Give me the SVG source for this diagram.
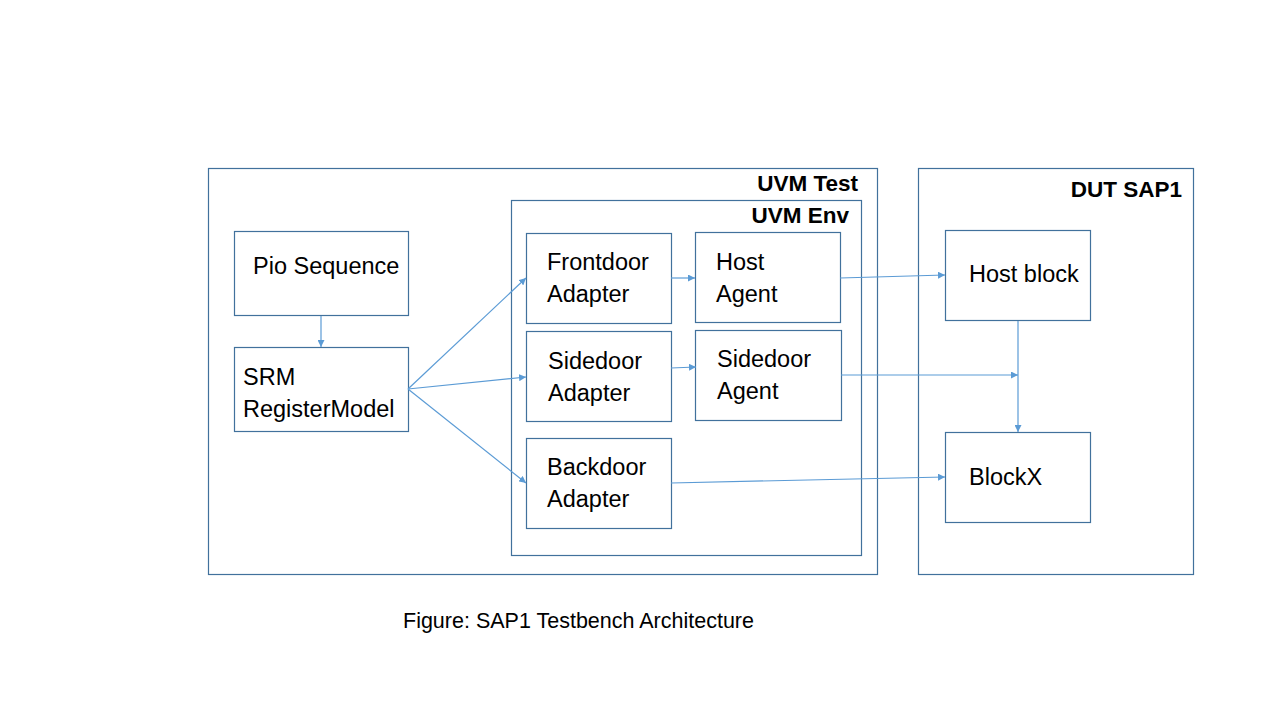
<svg xmlns="http://www.w3.org/2000/svg" width="1280" height="720" viewBox="0 0 1280 720">
<defs>
<marker id="ah" viewBox="0 0 10 10" refX="10" refY="5" markerWidth="7" markerHeight="7" markerUnits="userSpaceOnUse" orient="auto">
<path d="M0,0 L10,5 L0,10 z" fill="#5B9BD5"/>
</marker>
<style>
.box{fill:#fff;stroke:#41719C;stroke-width:1.2}
.cont{fill:none;stroke:#41719C;stroke-width:1.2}
.t{font-family:"Liberation Sans",Arial,sans-serif;font-size:23.5px;fill:#000}
.b{font-family:"Liberation Sans",Arial,sans-serif;font-size:22.5px;font-weight:bold;fill:#000;text-anchor:end}
.c{fill:none;stroke:#5B9BD5;stroke-width:1.2;marker-end:url(#ah)}
</style>
</defs>
<rect width="1280" height="720" fill="#fff"/>
<g id="uvm-test">
<rect class="cont" x="208.5" y="168.5" width="669" height="406"/>
<text class="b" x="858" y="191">UVM Test</text>
</g>
<g id="uvm-env">
<rect class="cont" x="511.5" y="200.5" width="350" height="355"/>
<text class="b" x="849" y="223">UVM Env</text>
</g>
<g id="dut-sap1">
<rect class="cont" x="918.5" y="168.5" width="275" height="406"/>
<text class="b" x="1182" y="197">DUT SAP1</text>
</g>
<g id="pio-sequence">
<rect class="box" x="234.5" y="231.5" width="174" height="84"/>
<text class="t" x="253" y="274">Pio Sequence</text>
</g>
<g id="srm">
<rect class="box" x="234.5" y="347.5" width="174" height="84"/>
<text class="t" x="243" y="385">SRM</text>
<text class="t" x="243" y="417">RegisterModel</text>
</g>
<g id="frontdoor-adapter">
<rect class="box" x="526.5" y="233.5" width="145" height="90"/>
<text class="t" x="547" y="270">Frontdoor</text>
<text class="t" x="547" y="302">Adapter</text>
</g>
<g id="host-agent">
<rect class="box" x="695.5" y="232.5" width="145" height="90"/>
<text class="t" x="716" y="270">Host</text>
<text class="t" x="716" y="302">Agent</text>
</g>
<g id="sidedoor-adapter">
<rect class="box" x="526.5" y="331.5" width="145" height="90"/>
<text class="t" x="548" y="369">Sidedoor</text>
<text class="t" x="548" y="401">Adapter</text>
</g>
<g id="sidedoor-agent">
<rect class="box" x="695.5" y="330.5" width="146" height="90"/>
<text class="t" x="717" y="367">Sidedoor</text>
<text class="t" x="717" y="399">Agent</text>
</g>
<g id="backdoor-adapter">
<rect class="box" x="526.5" y="438.5" width="145" height="90"/>
<text class="t" x="547" y="475">Backdoor</text>
<text class="t" x="547" y="507">Adapter</text>
</g>
<g id="host-block">
<rect class="box" x="945.5" y="230.5" width="145" height="90"/>
<text class="t" x="969" y="282">Host block</text>
</g>
<g id="blockx">
<rect class="box" x="945.5" y="432.5" width="145" height="90"/>
<text class="t" x="969" y="485">BlockX</text>
</g>
<g id="connectors">
<line class="c" x1="321" y1="316" x2="321" y2="347"/>
<line class="c" x1="408" y1="389" x2="526" y2="278"/>
<line class="c" x1="408" y1="389" x2="526" y2="377"/>
<line class="c" x1="408" y1="389" x2="526" y2="483"/>
<line class="c" x1="671" y1="278" x2="695" y2="278"/>
<line class="c" x1="671" y1="368" x2="696" y2="367"/>
<line class="c" x1="840" y1="278" x2="945" y2="275"/>
<line class="c" x1="841" y1="375" x2="1018" y2="375"/>
<line class="c" x1="1018" y1="321" x2="1018" y2="432"/>
<line class="c" x1="671" y1="483" x2="945" y2="477"/>
</g>
<text class="t" x="403" y="628" style="font-size:21.5px">Figure: SAP1 Testbench Architecture</text>
</svg>
